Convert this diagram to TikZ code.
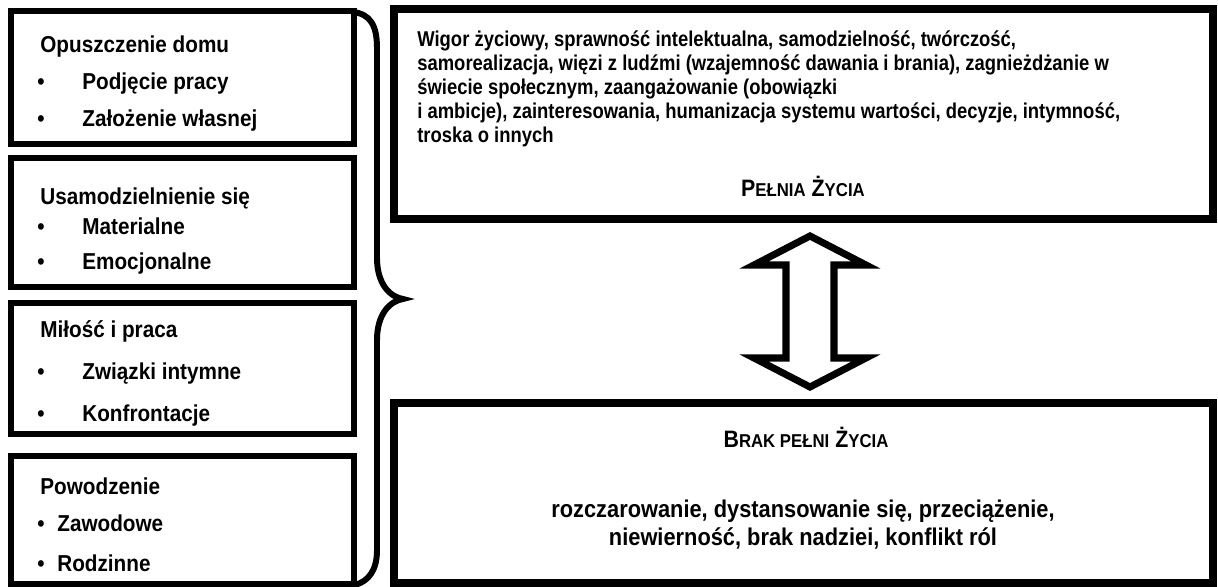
\documentclass[tikz,border=0pt]{standalone}
\usepackage{fontspec}
\setmainfont{Liberation Sans}
\newfontfamily\narrowfont[FakeStretch=0.9]{Liberation Sans}
\newfontfamily\narrowerfont[FakeStretch=0.86]{Liberation Sans}
\usetikzlibrary{positioning}
\usetikzlibrary{fit}
\tikzstyle{leftbox}=[draw, line width=3.4pt, inner sep=0pt]
\tikzstyle{rightbox}=[draw, line width=4pt, inner sep=0pt]
\tikzstyle{brace}=[line width=3.4pt]
\tikzstyle{twoway}=[line width=4pt, line join=miter, fill=white]
\tikzstyle{lefttext}=[anchor=base west, inner sep=0pt, font=\narrowfont\fontsize{13.1}{15}\selectfont\bfseries]
\tikzstyle{righttext}=[anchor=base west, inner sep=0pt, font=\narrowerfont\fontsize{12.2}{14}\selectfont\bfseries]
\tikzstyle{bottomtext}=[anchor=base, inner sep=0pt, font=\narrowfont\fontsize{13.8}{15}\selectfont\bfseries]
\tikzstyle{titletext}=[anchor=base, inner sep=0pt, font=\narrowfont\fontsize{13.5}{15}\selectfont\bfseries]
\newcommand{\smcap}[1]{{\fontsize{10.6}{12}\selectfont #1}}

\begin{document}
\begin{tikzpicture}[x=0.02cm, y=-0.02cm]

  \useasboundingbox (0,0) rectangle (1218,587);

  % left column
  \foreach \top/\bot/\name in {11/144/box1, 158/287/box2, 303/434/box3, 456/584/box4}
    \node[leftbox, fit={(11,\top) (354,\bot)}] (\name) {};

  \foreach \y/\txt/\name in {53/{Opuszczenie domu}/head1, 205/{Usamodzielnienie się}/head2, 338/{Miłość i praca}/head3, 495/{Powodzenie}/head4}
    \node[lefttext] (\name) at (40,\y) {\txt};

  \foreach \x/\y/\txt/\name in {82/90/{Podjęcie pracy}/item1, 82/127/{Założenie własnej}/item2,
                                82/235/{Materialne}/item3, 82/270/{Emocjonalne}/item4,
                                82/380/{Związki intymne}/item5, 82/422/{Konfrontacje}/item6,
                                57/532/{Zawodowe}/item7, 57/572/{Rodzinne}/item8}
  {
    \node[lefttext] (\name) at (\x,\y) {\txt};
    \node[lefttext] (\name-dot) at (37,\y) {•};
  }

  % brace
  \draw[brace] (353,12) .. controls (370,14) and (377,25) .. (377,48) -- (377,258)
        .. controls (377,284) and (390,297) .. (403,299)
        .. controls (390,301) and (377,314) .. (377,340) -- (377,550)
        .. controls (377,570) and (369,581) .. (355,585);

  % right column
  \node[rightbox, fit={(394,9) (1213,219)}] (full) {};
  \node[rightbox, fit={(394,403) (1213,583)}] (empty) {};

  \foreach \y/\txt/\name in {47/{Wigor życiowy, sprawność intelektualna, samodzielność, twórczość,}/line1,
                             71/{samorealizacja, więzi z ludźmi (wzajemność dawania i brania), zagnieżdżanie w}/line2,
                             95/{świecie społecznym, zaangażowanie (obowiązki}/line3,
                             119/{i ambicje), zainteresowania, humanizacja systemu wartości, decyzje, intymność,}/line4,
                             143/{troska o innych}/line5}
    \node[righttext] (\name) at (417,\y) {\txt};

  \node[titletext] (fulltitle) at (803,197) {P\smcap{EŁNIA} Ż\smcap{YCIA}};

  \node[titletext] (emptytitle) at (806,448) {B\smcap{RAK PEŁNI} Ż\smcap{YCIA}};
  \node[bottomtext] (emptyline1) at (803,518) {rozczarowanie, dystansowanie się, przeciążenie,};
  \node[bottomtext] (emptyline2) at (803,546) {niewierność, brak nadziei, konflikt ról};

  % double arrow
  \draw[twoway] (810,236) -- (866,265) -- (834,265) -- (834,358) -- (866,358) -- (810,387)
        -- (754,358) -- (786,358) -- (786,265) -- (754,265) -- cycle;

\end{tikzpicture}
\end{document}
